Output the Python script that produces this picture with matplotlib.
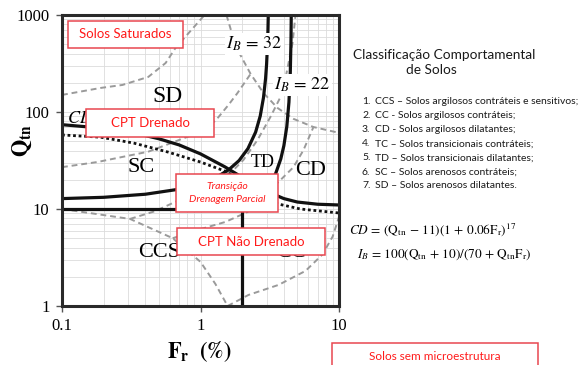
import matplotlib.pyplot as plt
from matplotlib.patches import Rectangle
from matplotlib.ticker import NullFormatter

plt.rcParams['mathtext.fontset'] = 'stix'

W, H = 578, 365
SERIF = 'Liberation Serif'
SANS = 'Lato'
RED = '#ff1a1a'
RED_EDGE = '#e8474f'

# Robertson (1990) zone boundaries (Fr %, Qtn)
z7_fr = [0.1, 0.19, 0.273, 0.42, 0.56, 0.66, 0.82, 1.07]
z7_q = [150, 177, 190, 230, 320, 457, 650, 1000]
z89_fr = [1.54, 1.70, 1.94, 2.30, 2.85, 3.60, 4.69, 6.54, 10]
z89_q = [1000, 622, 387, 247, 157, 110, 85, 70, 61]
z6_fr = [0.1, 0.18, 0.42, 0.875, 1.28, 1.59, 1.85, 2.30]
z6_q = [27, 30.5, 39, 58, 81, 118, 157, 247]
z5_fr = [0.31, 0.47, 0.68, 1.09, 1.73, 2.04, 2.58, 3.2, 3.91, 4.62, 4.85]
z5_q = [7.9, 9.5, 12.1, 17.3, 25.2, 32, 51.5, 89, 157, 514, 1000]
z4_fr = [0.63, 1.0, 1.51, 2.18, 2.80, 3.78, 4.69, 5.54, 6.54]
z4_q = [5.0, 6.2, 7.35, 9.3, 13.3, 19.9, 27, 40.5, 70]
z1_fr = [0.1, 0.31, 0.63, 1.0, 1.28, 1.57]
z1_q = [10, 7.9, 5.0, 2.85, 1.69, 1.0]
z2_fr = [1.57, 2.22, 3.66, 5.73, 7.6, 9.0, 10]
z2_q = [1.0, 1.3, 1.65, 2.3, 3.4, 5.2, 8.3]

# Robertson (2016) boundaries
cd70_fr = [0.1, 0.2, 0.3, 0.5, 0.7, 1.0, 1.5, 2.0, 3.0, 4.0, 5.0, 7.0, 10.0]
cd70_q = [74, 68, 63, 53, 45.8, 37, 27.2, 21.2, 15.2, 12.8, 11.8, 11.2, 11.0]
ib32_fr = [0.1, 0.2, 0.4, 0.7, 1.0, 1.3, 1.6, 1.9, 2.2, 2.5, 2.7, 2.85, 2.95,
           3.0, 3.05, 3.07, 3.09]
ib32_q = [12.8, 13.2, 14.2, 16.0, 18.2, 21.2, 25.4, 31.6, 41.9, 62, 91, 141,
          221, 310, 517, 705, 1107]
ib22_fr = [2.0, 2.5, 2.9, 3.2, 3.5, 3.8, 4.0, 4.2, 4.35, 4.45, 4.5, 4.52, 4.53]
ib22_q = [9.6, 12, 14.9, 18.2, 23.5, 32.9, 45, 71, 126, 257, 540, 964, 1588]
cd_dot_fr = [0.1, 0.19, 0.33, 0.58, 1.0, 1.57, 2.3, 3.6, 5.26, 10]
cd_dot_q = [58, 55, 47.8, 38.7, 30.5, 24, 15.7, 11.3, 10, 9.1]
q10_fr = [0.1, 2.0]
q10_q = [10, 10]
fr2_fr = [2.0, 2.0]
fr2_q = [1, 10]

zones = ['SD', 'SC', 'TD', 'CD', 'CCS', 'CC']
zone_fr = [0.578, 0.37, 2.8, 6.2, 0.50, 4.47]
zone_q = [143, 27, 30.5, 25.2, 3.6, 3.6]
zone_size = [17, 16, 13, 16, 16, 16]

legenda = [
    'CCS – Solos argilosos contráteis e sensitivos;',
    'CC - Solos argilosos contráteis;',
    'CD - Solos argilosos dilatantes;',
    'TC – Solos transicionais contráteis;',
    'TD – Solos transicionais dilatantes;',
    'SC – Solos arenosos contráteis;',
    'SD – Solos arenosos dilatantes.',
]


def fx(x):
    return x / W


def fy(y):
    return 1 - y / H


def caixa(fig, x0, y0, x1, y1, texto, **kw):
    fig.add_artist(Rectangle((fx(x0), fy(y1)), fx(x1) - fx(x0), fy(y0) - fy(y1),
                             transform=fig.transFigure, facecolor='white',
                             edgecolor=RED_EDGE, lw=1.1, zorder=10))
    if texto:
        fig.text(fx((x0 + x1) / 2), fy((y0 + y1) / 2), texto, ha='center',
                 va='center', color=RED, family=SANS, zorder=11, **kw)


fig = plt.figure(figsize=(W / 100, H / 100), dpi=100)
ax = fig.add_axes([fx(62), fy(306), fx(339) - fx(62), fy(15) - fy(306)])
ax.set_xscale('log')
ax.set_yscale('log')
ax.set_xlim(0.1, 10)
ax.set_ylim(1, 1000)
ax.grid(which='both', color='#dcdcdc', lw=0.6)
ax.set_axisbelow(True)
for s in ax.spines.values():
    s.set_linewidth(2.2)
    s.set_color('#2a2a2a')

ax.set_xticks([0.1, 1, 10])
ax.set_xticklabels(['0.1', '1', '10'])
ax.set_yticks([1, 10, 100, 1000])
ax.set_yticklabels(['1', '10', '100', '1000'])
ax.xaxis.set_minor_formatter(NullFormatter())
ax.yaxis.set_minor_formatter(NullFormatter())
ax.tick_params(which='minor', length=0)
ax.tick_params(which='major', length=4, width=1, color='#555555', labelsize=12,
               pad=5)
for lab in ax.get_xticklabels() + ax.get_yticklabels():
    lab.set_family(SERIF)

dash = dict(color='#9a9a9a', lw=1.4, dashes=(3, 2))
for frs, qs in [(z7_fr, z7_q), (z89_fr, z89_q), (z6_fr, z6_q), (z5_fr, z5_q),
                (z4_fr, z4_q), (z1_fr, z1_q), (z2_fr, z2_q)]:
    ax.plot(frs, qs, **dash)

thick = dict(color='#111111', lw=2.3, solid_capstyle='butt')
ax.plot(cd70_fr, cd70_q, **thick)
ax.plot(ib32_fr, ib32_q, **thick)
ax.plot(ib22_fr, ib22_q, **thick)
ax.plot(q10_fr, q10_q, **thick)
ax.plot(fr2_fr, fr2_q, **thick)
ax.plot(cd_dot_fr, cd_dot_q, color='#111111', lw=2.0, ls=(0, (1, 1)))

for z, f, q, s in zip(zones, zone_fr, zone_q, zone_size):
    ax.text(f, q, z, ha='center', va='center', fontsize=s, family=SERIF)

ax.text(0.108, 87, r'$CD\,=\,70$', fontsize=13, ha='left', va='center')
ax.text(2.45, 503, r'$I_B\,=\,\mathit{32}$', fontsize=13, ha='center', va='center',
        bbox=dict(facecolor='white', edgecolor='none', pad=1))
ax.text(5.45, 190, r'$I_B\,=\,\mathit{22}$', fontsize=13, ha='center', va='center',
        bbox=dict(facecolor='white', edgecolor='none', pad=1))

fig.text(fx(22), fy(140), r'$\mathbf{Q}_{\mathbf{tn}}$', rotation=90, fontsize=16,
         ha='center', va='center')
fig.text(fx(200), fy(352), r'$\mathbf{F}_{\mathbf{r}}\ \ \mathbf{(\%)}$', fontsize=16,
         ha='center', va='center')

caixa(fig, 68, 21, 183, 48, 'Solos Saturados', fontsize=9.5)
caixa(fig, 86, 109, 214, 137, 'CPT Drenado', fontsize=9.5)
caixa(fig, 176, 174, 278, 212, 'Transição\nDrenagem Parcial', fontsize=7.5,
      style='italic', linespacing=1.5)
caixa(fig, 177, 228, 325, 255, 'CPT Não Drenado', fontsize=9.5)
caixa(fig, 332, 343, 538, 380, '')
fig.text(fx(435), fy(357), 'Solos sem microestrutura', ha='center', va='center',
         color=RED, family=SANS, fontsize=8.5, zorder=11)

fig.text(fx(444), fy(55), 'Classificação Comportamental', ha='center', va='center',
         family=SANS, fontsize=9.8, color='#1a1a1a')
fig.text(fx(431), fy(70), 'de Solos', ha='center', va='center',
         family=SANS, fontsize=9.8, color='#1a1a1a')
for i, item in enumerate(legenda):
    y = 102 + 14 * i
    fig.text(fx(362), fy(y), f'{i + 1}.', ha='left', va='center', family=SANS,
             fontsize=7.5, color='#1a1a1a')
    fig.text(fx(375), fy(y), item, ha='left', va='center', family=SANS,
             fontsize=7.5, color='#1a1a1a')

fig.text(fx(349), fy(230),
         r'$CD\,=\,(\mathrm{Q}_{\mathrm{tn}}\,-\,11)(1\,+\,0.06\mathrm{F}_{\mathrm{r}})^{17}$',
         ha='left', va='center', fontsize=9.5)
fig.text(fx(357), fy(255),
         r'$I_B\,=\,100(\mathrm{Q}_{\mathrm{tn}}\,+\,10)/(70\,+\,\mathrm{Q}_{\mathrm{tn}}\mathrm{F}_{\mathrm{r}})$',
         ha='left', va='center', fontsize=9.5)

fig.savefig('out.png', dpi=100)
